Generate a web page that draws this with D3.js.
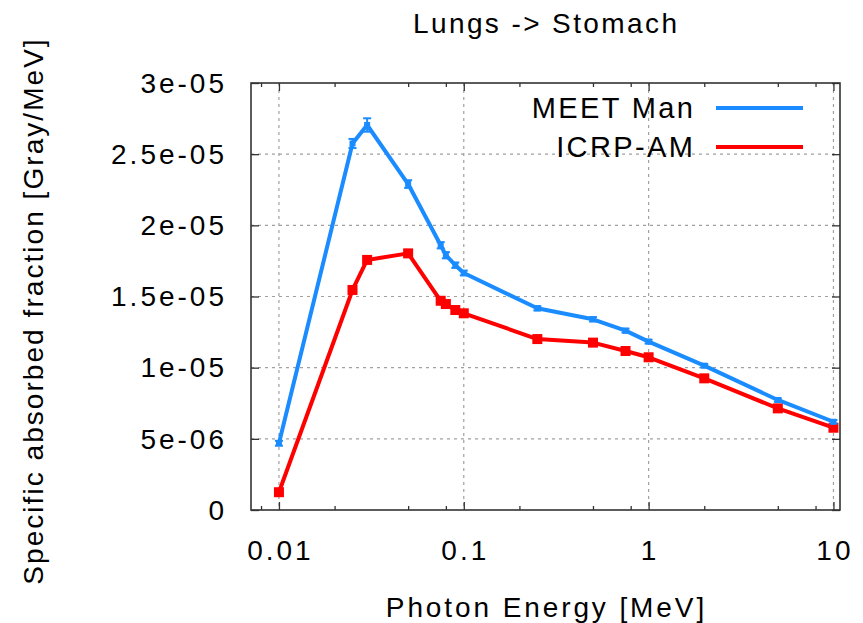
<!DOCTYPE html>
<html><head><meta charset="utf-8">
<script src="https://cdn.jsdelivr.net/npm/d3@7"></script>
<style>
html,body{margin:0;padding:0;background:#fff;}
svg{display:block;font-family:"Liberation Sans",Arial,sans-serif;}
</style></head>
<body>
<svg id="chart" width="863" height="623"></svg>
<script>
const energies = [0.01, 0.025, 0.03, 0.05, 0.075, 0.08, 0.09, 0.1, 0.25, 0.5, 0.75, 1, 2, 5, 10];
const meetMan = [4.69e-6, 2.575e-5, 2.705e-5, 2.29e-5, 1.86e-5, 1.79e-5, 1.72e-5, 1.665e-5, 1.417e-5, 1.34e-5, 1.26e-5, 1.183e-5, 1.014e-5, 7.73e-6, 6.2e-6];
const meetManErr = [1.0e-7, 2.5e-7, 4.0e-7, 2.0e-7, 1.5e-7, 1.5e-7, 1.2e-7, 1.0e-7, 8e-8, 8e-8, 7e-8, 6e-8, 5e-8, 5e-8, 5e-8];
const icrpAM = [1.25e-6, 1.546e-5, 1.757e-5, 1.803e-5, 1.47e-5, 1.447e-5, 1.405e-5, 1.382e-5, 1.201e-5, 1.176e-5, 1.117e-5, 1.073e-5, 9.25e-6, 7.14e-6, 5.78e-6];
const yTicks = [0, 5e-6, 1e-5, 1.5e-5, 2e-5, 2.5e-5, 3e-5];
const yTickLabels = ["0", "5e-06", "1e-05", "1.5e-05", "2e-05", "2.5e-05", "3e-05"];
const xTicks = [0.01, 0.1, 1, 10];
const xTickLabels = ["0.01", "0.1", "1", "10"];
const xMinorTicks = [0.008, 0.02, 0.05, 0.08, 0.2, 0.5, 0.8, 2, 5, 8];
const seriesNames = ["MEET Man", "ICRP-AM"];
const titleText = "Lungs -> Stomach";
const xLabelText = "Photon Energy [MeV]";
const yLabelText = "Specific absorbed fraction [Gray/MeV]";

const BLUE = "#1a8cff", RED = "#ff0000", AXIS = "#333";
const L = 251, R = 840, T = 83, B = 510;
const svg = d3.select("#chart");
const x = d3.scaleLog().domain([0.00706, 10.85]).range([L, R]);
const y = d3.scaleLinear().domain([0, 3e-5]).range([B, T]);
const LS = 2.4, TLS = 3;

// grid
const grid = svg.append("g").attr("stroke", "#a0a0a0").attr("stroke-width", 1.2).attr("stroke-dasharray", "3,4");
xTicks.forEach(v => grid.append("line").attr("x1", x(v)).attr("x2", x(v)).attr("y1", T).attr("y2", B));
yTicks.slice(1, -1).forEach(v => grid.append("line").attr("x1", L).attr("x2", R).attr("y1", y(v)).attr("y2", y(v)));

// axes via d3 axes (inward ticks, mirrored)
function styleAxis(g) { g.select(".domain").remove(); g.selectAll("line").attr("stroke", AXIS).attr("stroke-width", 1.3); g.selectAll("text").remove(); }
svg.append("g").attr("transform", `translate(0,${B})`).call(d3.axisBottom(x).tickValues(xTicks).tickSize(-8)).call(styleAxis);
svg.append("g").attr("transform", `translate(0,${B})`).call(d3.axisBottom(x).tickValues(xMinorTicks).tickSize(-4)).call(styleAxis);
svg.append("g").attr("transform", `translate(0,${T})`).call(d3.axisTop(x).tickValues(xTicks).tickSize(-8)).call(styleAxis);
svg.append("g").attr("transform", `translate(0,${T})`).call(d3.axisTop(x).tickValues(xMinorTicks).tickSize(-4)).call(styleAxis);
svg.append("g").attr("transform", `translate(${L},0)`).call(d3.axisLeft(y).tickValues(yTicks).tickSize(-8)).call(styleAxis);
svg.append("g").attr("transform", `translate(${R},0)`).call(d3.axisRight(y).tickValues(yTicks).tickSize(-8)).call(styleAxis);

// border
svg.append("rect").attr("x", L).attr("y", T).attr("width", R - L).attr("height", B - T)
  .attr("fill", "none").attr("stroke", AXIS).attr("stroke-width", 1.6);

// tick labels
const tl = svg.append("g").attr("font-size", 28).attr("fill", "#000").attr("letter-spacing", TLS);
xTicks.forEach((v, i) => tl.append("text").attr("x", x(v) + TLS / 2).attr("y", 560).attr("text-anchor", "middle").text(xTickLabels[i]));
yTicks.forEach((v, i) => tl.append("text").attr("x", 224 + TLS).attr("y", y(v)).attr("dy", "0.35em").attr("text-anchor", "end").text(yTickLabels[i]));

// titles
svg.append("text").attr("x", 545 + LS / 2).attr("y", 33).attr("text-anchor", "middle").attr("font-size", 28).attr("letter-spacing", LS).text(titleText);
svg.append("text").attr("x", 545 + 1.45).attr("y", 617).attr("text-anchor", "middle").attr("font-size", 28).attr("letter-spacing", 2.9).text(xLabelText);
svg.append("text").attr("transform", `translate(43,${311}) rotate(-90)`).attr("text-anchor", "middle").attr("font-size", 28).attr("letter-spacing", 2.05).text(yLabelText);

// series
const line = d3.line().x(d => x(d[0])).y(d => y(d[1]));
const blueData = energies.map((e, i) => [e, meetMan[i], meetManErr[i]]);
const redData = energies.map((e, i) => [e, icrpAM[i]]);

svg.append("path").datum(redData).attr("d", line).attr("fill", "none").attr("stroke", RED).attr("stroke-width", 4).attr("stroke-linejoin", "round");
svg.append("g").selectAll("rect").data(redData).join("rect")
  .attr("x", d => x(d[0]) - 5).attr("y", d => y(d[1]) - 5).attr("width", 10).attr("height", 10).attr("fill", RED);

svg.append("path").datum(blueData).attr("d", line).attr("fill", "none").attr("stroke", BLUE).attr("stroke-width", 4).attr("stroke-linejoin", "round");
const eb = svg.append("g").attr("stroke", BLUE).attr("stroke-width", 2);
blueData.forEach(d => {
  const cx = x(d[0]), y1 = y(d[1] + d[2]), y2 = y(d[1] - d[2]);
  eb.append("line").attr("x1", cx).attr("x2", cx).attr("y1", y1 - 1).attr("y2", y2 + 1);
  eb.append("line").attr("x1", cx - 4).attr("x2", cx + 4).attr("y1", y1 - 1).attr("y2", y1 - 1);
  eb.append("line").attr("x1", cx - 4).attr("x2", cx + 4).attr("y1", y2 + 1).attr("y2", y2 + 1);
});
svg.append("g").selectAll("rect").data(blueData).join("rect")
  .attr("x", d => x(d[0]) - 3).attr("y", d => y(d[1]) - 3).attr("width", 6).attr("height", 6).attr("fill", BLUE);

// legend
const leg = svg.append("g");
[[seriesNames[0], BLUE, 108], [seriesNames[1], RED, 147]].forEach(([name, c, ly]) => {
  leg.append("text").attr("x", 693 + LS).attr("y", ly).attr("dy", "0.35em").attr("text-anchor", "end")
    .attr("font-size", 29).attr("letter-spacing", LS).text(name);
  leg.append("line").attr("x1", 716).attr("x2", 803).attr("y1", ly).attr("y2", ly).attr("stroke", c).attr("stroke-width", 4);
});
</script>
</body></html>
